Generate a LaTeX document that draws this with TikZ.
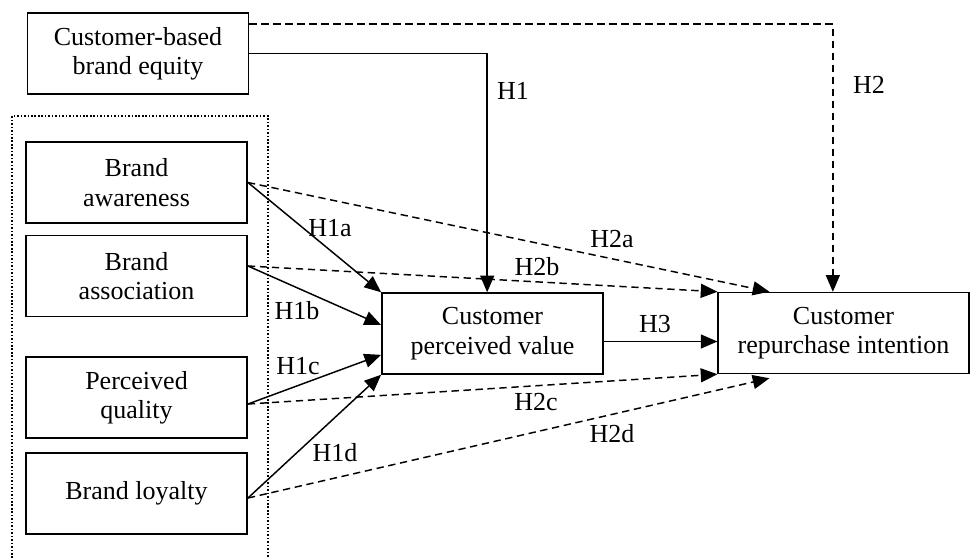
\documentclass[tikz,border=0pt]{standalone}
\usepackage{fontspec}
\setmainfont{Liberation Serif}
\usetikzlibrary{arrows.meta}
\begin{document}
\begin{tikzpicture}[x=0.75pt,y=-0.75pt,
  every node/.style={font=\fontsize{19.5pt}{22pt}\selectfont},
  box/.style={draw,line width=1.1pt,minimum width=166pt,minimum height=60.75pt,align=center,inner sep=0pt},
  lab/.style={inner sep=0pt},
  con/.style={line width=1.1pt,-{Triangle[length=12.5pt,width=10.5pt]}},
  dcon/.style={con,dash pattern=on 5.5pt off 3.5pt},
  dotbox/.style={line width=1.2pt,dash pattern=on 1.2pt off 1.4pt}]
\useasboundingbox (0,0) rectangle (970,557);
% dotted grouping box
\draw[dotbox] (12,565) -- (12,116) -- (268,116) -- (268,565);
% boxes
\node[box] (cbbe) at (138,53.5) {Customer-based\\brand equity};
\node[box] (aw) at (136.5,182.5) {Brand\\awareness};
\node[box] (as) at (136.5,276) {Brand\\association};
\node[box] (pq) at (136.5,397.5) {Perceived\\quality};
\node[box] (bl) at (136.5,493.5) {Brand loyalty};
\node[box] (cpv) at (492.5,333.5) {Customer\\perceived value};
\node[box,minimum width=188pt] (cri) at (843.5,333) {Customer\\repurchase intention};
% H1, H2
\draw[con] (cbbe.east) -| ([xshift=-4pt]cpv.north);
\draw[dcon] ([yshift=22pt]cbbe.east) -| ([xshift=-8pt]cri.north);
% H1a-d
\draw[con] (aw.east) -- (cpv.north west);
\draw[con] ([yshift=7.5pt]as.east) -- ([yshift=6.4pt]cpv.west);
\draw[con] ([yshift=-4.9pt]pq.east) -- ([yshift=-16pt]cpv.west);
\draw[con] ([yshift=-3.4pt]bl.east) -- (cpv.south west);
% H2a-d
\draw[dcon] (aw.east) -- ([xshift=39pt]cri.north west);
\draw[dcon] ([yshift=7.5pt]as.east) -- (cri.north west);
\draw[dcon] ([yshift=-4.9pt]pq.east) -- (cri.south west);
\draw[dcon] ([yshift=-3.4pt]bl.east) -- ([xshift=39pt,yshift=-3pt]cri.south west);
% H3
\draw[con] ([yshift=-6pt]cpv.east) -- ([yshift=-6pt]cpv.east -| cri.west);
% labels
\node[lab] (l1) at (513,91) {H1};
\node[lab] (l2) at (869,85) {H2};
\node[lab] (l1a) at (330,228) {H1a};
\node[lab] (l1b) at (297,311) {H1b};
\node[lab] (l1c) at (298,366) {H1c};
\node[lab] (l1d) at (335,453) {H1d};
\node[lab] (l2a) at (612,239) {H2a};
\node[lab] (l2b) at (537,267) {H2b};
\node[lab] (l2c) at (536,402) {H2c};
\node[lab] (l2d) at (612,434) {H2d};
\node[lab] (l3) at (655,324) {H3};
\end{tikzpicture}
\end{document}
